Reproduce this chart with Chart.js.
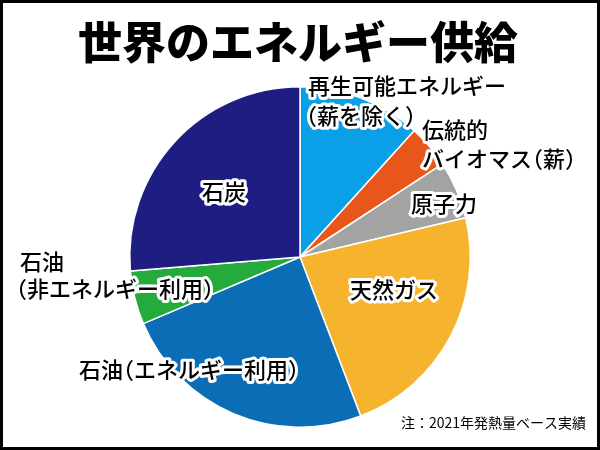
<!DOCTYPE html>
<html lang="ja">
<head>
<meta charset="utf-8">
<script src="https://cdn.jsdelivr.net/npm/chart.js@4/dist/chart.umd.min.js"></script>
<style>
html,body{margin:0;padding:0;background:#fff;}
#wrap{width:600px;height:450px;position:relative;}
</style>
</head>
<body>
<div id="wrap"><canvas id="c" width="600" height="450"></canvas></div>
<script>
// ---- data ----
const categories = ['再生可能エネルギー（薪を除く）','伝統的バイオマス（薪）','原子力','天然ガス','石油（エネルギー利用）','石油（非エネルギー利用）','石炭'];
const shares = [11.7, 4.1, 5.5, 22.9, 24.4, 5.1, 26.3];
const colors = ['#0a9fe6','#e8561b','#a3a3a3','#f6b42e','#0a6db6','#24ab3b','#1e1e82'];
const titleText = '世界のエネルギー供給';
const noteText = '注：2021年発熱量ベース実績';
// label lines per slice (same order as categories)
const labelLines = [
  ['再生可能エネルギー','（薪を除く）'],
  ['伝統的','バイオマス（薪）'],
  ['原子力'],
  ['天然ガス'],
  ['石油（エネルギー利用）'],
  ['石油','（非エネルギー利用）'],
  ['石炭']
];
// ---- layout of label text (not data) ----
const labelLayout = [
  {x:308, y:86, align:'left', lh:30, dx:[0,-2]},
  {x:422, y:130, align:'left', lh:29},
  {x:411, y:204, align:'left'},
  {x:394, y:290, align:'center'},
  {x:79, y:370, align:'left'},
  {x:20, y:262, align:'left', lh:27, dx:[0,-4]},
  {x:224, y:192, align:'center'}
];
const FONT = '"Noto Sans CJK JP","Noto Sans",sans-serif';

// draw text with proportional (palt-like) brackets
function segs(ctx, text, size){
  const out = [];
  for (const ch of text){
    if (ch === '（') out.push({ch, off:-0.5*size, adv:0.5*size});
    else if (ch === '）') out.push({ch, off:0, adv:0.5*size});
    else out.push({ch, off:0, adv:ctx.measureText(ch).width});
  }
  return out;
}
function drawPalt(ctx, text, x, y, size, align, outline){
  const s = segs(ctx, text, size);
  const total = s.reduce((a,b)=>a+b.adv,0);
  let cx = align==='center' ? x - total/2 : (align==='right' ? x - total : x);
  const saveAlign = ctx.textAlign;
  ctx.textAlign = 'left';
  if (outline){
    let px = cx;
    ctx.strokeStyle = '#fff';
    ctx.lineWidth = 6;
    s.forEach(g=>{ ctx.strokeText(g.ch, px+g.off, y); px += g.adv; });
  }
  let px = cx;
  ctx.fillStyle = '#000';
  s.forEach(g=>{ ctx.fillText(g.ch, px+g.off, y); px += g.adv; });
  ctx.textAlign = saveAlign;
}

const textPlugin = {
  id:'texts',
  afterDraw(chart){
    const ctx = chart.ctx;
    ctx.save();
    // frame
    ctx.strokeStyle = '#000';
    ctx.lineWidth = 3;
    ctx.strokeRect(1.5,1.5,597,447);
    // title
    ctx.fillStyle = '#000';
    ctx.font = '900 44px ' + FONT;
    ctx.textAlign = 'center';
    ctx.textBaseline = 'middle';
    ctx.fillText(titleText, 298, 42);
    // labels
    const size = 22;
    ctx.font = '500 ' + size + 'px ' + FONT;
    ctx.lineJoin = 'round';
    labelLines.forEach((lines,i)=>{
      const L = labelLayout[i];
      lines.forEach((t,k)=>{
        const x = L.x + ((L.dx && L.dx[k]) || 0);
        const y = L.y + k*(L.lh||28);
        drawPalt(ctx, t, x, y, size, L.align, true);
      });
    });
    // note
    ctx.font = '14px ' + FONT;
    drawPalt(ctx, noteText, 586, 423, 14, 'right', false);
    ctx.restore();
  }
};

new Chart(document.getElementById('c'), {
  type:'pie',
  data:{
    labels:categories,
    datasets:[{
      data:shares,
      backgroundColor:colors,
      borderColor:'#ffffff',
      borderWidth:1.5,
      hoverOffset:0
    }]
  },
  options:{
    responsive:false,
    animation:false,
    layout:{padding:{top:86,bottom:22,left:0,right:0}},
    plugins:{legend:{display:false},tooltip:{enabled:false},title:{display:false}},
    events:[]
  },
  plugins:[textPlugin]
});
</script>
</body>
</html>
